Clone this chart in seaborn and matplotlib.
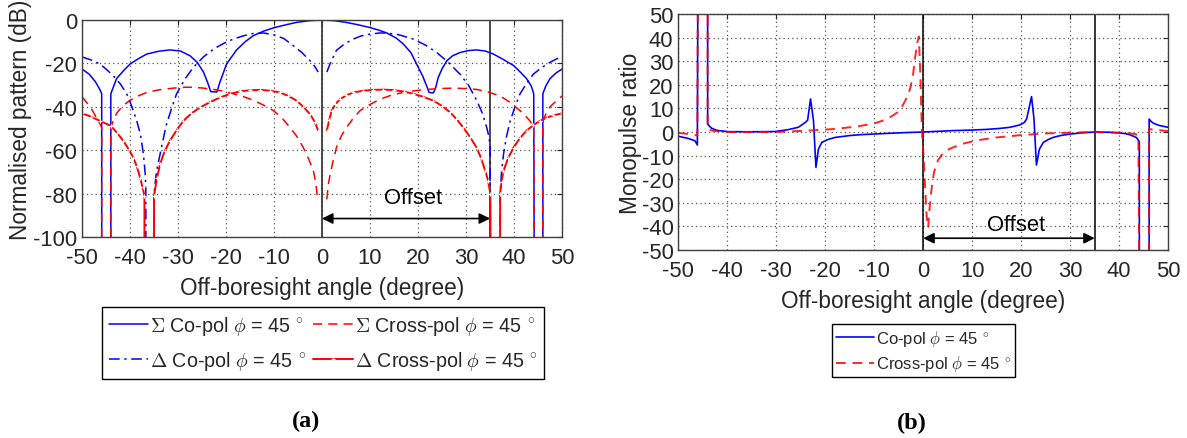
import numpy as np
import pandas as pd
import matplotlib
matplotlib.use("Agg")
import matplotlib.pyplot as plt
import seaborn as sns

# ---------------- data ----------------
N = np.nan
xticks = [-50, -40, -30, -20, -10, 0, 10, 20, 30, 40, 50]
yticks_a = [0, -20, -40, -60, -80, -100]
yticks_b = [50, 40, 30, 20, 10, 0, -10, -20, -30, -40, -50]

# (a) Sigma co-pol (blue solid)
sum_co_x = [-50, -48.5, -47.2, -46.3, -45.9, -45.9, -44.0, -44.0, -42.8, -41.2, -40, -38, -36.5, -34, -31.7, -29.5,
            -27.5, -26, -24.7, -23.8, -23.2, -21.9, -21.25, -20.5, -19.9, -17.8, -16, -14.3, -12, -9.9, -7.5, -5.3, -2.5,
            0, 2.5, 5, 7.5, 10, 12, 13.5, 15.5, 16.9, 18.5, 19.7, 21, 21.9, 22.3, 23.2, 23.7, 24.2, 25, 26, 27.2, 28.75,
            30.5, 32.2, 34, 35.7, 38, 39.9, 41.3, 42.6, 43.6, 44.1, 44.2, 46.0, 46.0, 46.6, 47.5, 48.7, 50]
sum_co_y = [-22.6, -25, -28.5, -32, -34, -110, -110, -34, -27, -23, -20.3, -17.5, -15.7, -14.4, -13.8, -14.3,
            -16.5, -19.5, -24, -29, -33, -33.2, -28.5, -24, -20.3, -13.8, -10, -7.2, -5, -3.5, -2.2, -1.1, -0.3,
            0, -0.3, -1.1, -2.2, -3.5, -4.8, -6, -8.4, -11, -15, -20.3, -26, -31, -33.4, -33.6, -31, -26.5, -22.5, -18.8, -16.5, -15,
            -14.1, -13.8, -14.3, -15.7, -18.5, -21, -24, -27, -30.5, -34, -110, -110, -34, -30.5, -27, -24.5, -22.6]

# (a) Delta co-pol (blue dash-dot), NaN = gap in the curve
dif_co_x = [-50, -48, -46.25, -45, -43.5, -42, -40.7, -39.6, -38.6, -37.8, -37.2, -36.8, -36.7, -36.7, -35.0, -35.0, -34.5, -33.75,
            -33, -32.4, -31.3, -30.3, -28.5, -26.8, -24.7, -22.6, -20.5, -18.5, -16.4, -14.3, -12.2, -10.1, -8, -6, -4.2,
            -2.5, -1.5, -0.8, N, 1, 1.8, 3, 4.7, 6.5, 8.2, 10, 12, 13.5, 16, 19, 21.5, 23.9, 26.3, 28.75, 30.5, 32.2, 33.4, 34.3, 34.8, 35, 35.1,
            37.1, 37.1, 37.4, 37.8, 38.4, 39.2, 40.2, 41.25, 42.6, 44, 45.7, 47.5, 48.8, 50]
dif_co_y = [-17, -18.5, -20.3, -22.6, -25.7, -29.5, -34, -40, -46.5, -53, -62, -72, -80, -110, -110, -80, -70, -62,
            -54, -48, -40.5, -34, -27, -21.8, -17, -13.4, -10.8, -8.8, -7.3, -6.2, -6, -6.8, -8.5, -11.8, -15,
            -18.8, -21.5, -24, N, -24, -19.5, -14, -11, -8.8, -7.3, -6.5, -6, -6, -6.8, -8.8, -11.5, -15, -19.5, -25, -30, -37, -43, -49.5, -54, -58.8, -110,
            -110, -80, -70, -62, -54, -46.5, -40, -34, -29.3, -25, -22, -19.5, -18, -17]

# (a) Sigma cross-pol (red dashed)
sum_x_x = [-50, -48.3, -46.6, -45.9, -45.9, -44.0, -44.0, -43.4, -42.8, -41.5, -40, -38.3, -36.5, -34, -31, -28.8, -26.8, -24.7,
           -22.6, -20.5, -18.5, -16.4, -14.3, -12.2, -10.1, -8.3, -6.7, -5.3, -3.9, -2.8, -1.8, -1.3, -1, N, 1, 1.3, 1.7,
           2.3, 3, 4, 5.1, 6.5, 7.9, 10, 12.1, 14.5, 16.9, 19.3, 21.8, 24.5, 27.4, 29.8, 32.2, 34.6, 37.1, 39.2, 41.25, 42.3,
           43.3, 44.1, 44.2, 46.0, 46.0, 46.6, 47.5, 48.7, 50]
sum_x_y = [-35.4, -40, -46.5, -49.5, -110, -110, -49.5, -46, -43, -39.5, -37, -35, -33.4, -32.2, -31.4, -31, -31, -31.4,
           -32, -32.8, -34, -35.3, -37, -39.2, -41.8, -45.3, -49.5, -53.5, -58.8, -64, -69.5, -75, -81, N, -82.6, -76, -71,
           -65, -58.8, -53.5, -49.5, -45.3, -41.8, -38.9, -36.5, -34.6, -33.4, -32.6, -32, -31.6, -31.4, -31.6, -32, -33.2, -35, -38, -41.8, -44,
           -46.5, -49.5, -110, -110, -46.5, -43.5, -40, -37.5, -35]

# (a) Delta cross-pol (red solid with markers)
dif_x_x = [-50, -48.2, -46.25, -44, -42.7, -41.4, -40.3, -39.3, -38.6, -37.9, -37.4, -37.0, -37.0, -35.0, -35.0, -34.4, -33.75,
           -32.8, -31.7, -30.3, -28.9, -27.2, -25.4, -23.3, -21.25, -19.2, -17.1, -15, -12.9, -10.8, -8.75, -7, -5.3, -3.9, -2.5,
           -1.5, -0.8, N, 1, 1.5, 2, 2.8, 3.75, 5, 6.5, 8.6, 10.7, 12.8, 14.9, 17, 19, 21.1, 23.2, 25, 26.7, 28, 29.4, 30.8,
           32.2, 33.1, 34, 34.6, 35.05, 35.1, 37.1, 37.1, 37.4, 37.8, 38.8, 39.9, 41.2, 42.6, 44, 45.4, 46.8, 48.2, 50]
dif_x_y = [-43, -44.5, -46.5, -48.8, -52, -55.7, -59.5, -63.4, -67.5, -72.6, -77, -81, -110, -110, -81, -73, -66.5,
           -60.5, -55.7, -50.8, -46.5, -43, -40.3, -37.8, -35.7, -34.1, -32.9, -32.4, -32.2, -32.6, -33.4, -35, -37.2, -40, -43.4,
           -47, -51, N, -51, -46, -41.8, -38.8, -36.5, -34.8, -33.4, -32.6, -32.2, -32.1, -32.3, -33, -34, -35.4, -37.2, -39.6, -42.6, -45.6, -49.5, -53.8,
           -58.8, -63.5, -69.5, -74, -80, -110, -110, -80, -74.5, -69.5, -63.5, -58.8, -54.5, -51, -48.5, -46.5, -45, -44, -43]

# (b) Co-pol monopulse ratio (blue solid)
mr_co_x = [-50, -48, -46.6, -46.1, -46.0, -44.0, -44.0, -43.6, -43.2, -42.5, -41.8, -39.8, -35, -30.3, -27.6, -25.5, -24.1,
           -23.6, -23.0, -22.4, -21.9, -21.4, -20.7, -19.5, -18, -15, -12.6, -9.5, -6.5, -3, 0, 3, 6.1, 9.5, 12.9, 15.5,
           17.7, 19.7, 20.6, 21.1, 22.1, 22.6, 23.1, 23.7, 24.5, 25.5, 26.5, 28, 29.9, 32.5, 35, 38, 40.1, 41.3, 42.2, 43.5,
           44.1, 44.1, 46.1, 46.1, 46.5, 46.9, 47.6, 48.3, 50]
mr_co_y = [-1.8, -2.7, -3.7, -5.5, 60, 60, 3.4, 2.4, 1.6, 1.0, 0.6, 0.15, 0.1, 0.2, 1, 2, 4,
           5, 14, 4.8, -15, -7.3, -4.4, -3.2, -2.3, -1.5, -1.1, -0.8, -0.5, -0.2, 0, 0.3, 0.6, 0.8, 1.1, 1.5,
           2, 3, 4, 5.5, 15, 5.5, -14, -7.3, -4.4, -3.2, -2.3, -1.5, -0.9, -0.3, 0, -0.1, -0.4, -0.7, -1.2, -2.3,
           -4.1, -60, -60, 5.5, 4.5, 3.8, 3.2, 2.7, 2]

# (b) Cross-pol monopulse ratio (red dashed)
mr_x_x = [-50, -48, -46.1, -46.0, -44.0, -44.0, -43.3, -42.5, -39.8, -35, -30.3, -23.5, -18, -13.3, -9.9, -8, -6.5, -5.3,
          -4.4, -3.5, -2.7, -2.1, -1.7, -1.2, -0.9, -0.6, -0.3, 0, 0.3, 0.7, 1.0, 1.3, 1.7, 2.2, 3.0, 4.0, 5.5, 8, 11, 15,
          20, 25, 30, 35, 41.5, 43.3, 43.9, 44.1, 46.1, 46.1, 46.9, 48.5, 50]
mr_x_y = [-0.4, -0.8, -1.5, 60, 60, 1.3, 0.7, 0.4, 0, 0, 0, 0.6, 1.3, 2.4, 3.7, 5, 6.6, 8.3,
          10.5, 14, 18.2, 24, 31, 38, 40.5, 25, 2, -8, -20, -36, -40.5, -32, -24, -17, -12, -9, -7, -5, -3.5, -2.3,
          -1.3, -0.6, -0.3, 0, -0.4, -0.9, -1.5, -60, -60, 1.3, 1.0, 0.7, 0.4]

legend_a = [r"$\Sigma$ Co-pol $\phi$ = 45 $^{\circ}$", r"$\Delta$ Co-pol $\phi$ = 45 $^{\circ}$",
            r"$\Sigma$ Cross-pol $\phi$ = 45 $^{\circ}$", r"$\Delta$ Cross-pol $\phi$ = 45 $^{\circ}$"]
legend_b = [r"Co-pol $\phi$ = 45 $^{\circ}$", r"Cross-pol $\phi$ = 45 $^{\circ}$"]
offset_span = [0, 35]

# ---------------- style ----------------
sns.set_style("white")
plt.rcParams["font.family"] = ["Liberation Sans", "DejaVu Sans"]
plt.rcParams["mathtext.fontset"] = "cm"
plt.rcParams["axes.unicode_minus"] = False
TXT = "#262626"
FS_TICK = 15.8
FS_LAB = 16.3

BLUE = "#0000FF"
RED = "#FF0000"


def to_df(xs, ys):
    xs = np.asarray(xs, float)
    ys = np.asarray(ys, float)
    seg = np.cumsum(np.isnan(xs))
    df = pd.DataFrame({"x": xs, "y": ys, "seg": seg})
    return df.dropna()


def draw(ax, xs, ys, **kw):
    n0 = len(ax.get_lines())
    df = to_df(xs, ys)
    sns.lineplot(data=df, x="x", y="y", units="seg", estimator=None, sort=False,
                 ax=ax, legend=False, **kw)
    return ax.get_lines()[n0]


fig = plt.figure(figsize=(11.87, 4.39), dpi=100)
axL = fig.add_axes([0.0691, 0.4579, 0.4044, 0.4943])
axR = fig.add_axes([0.5714, 0.4282, 0.4128, 0.5376])

# ---------- (a) ----------
h1 = draw(axL, sum_co_x, sum_co_y, color=BLUE, lw=1.1, linestyle="-")
h2 = draw(axL, dif_co_x, dif_co_y, color=BLUE, lw=1.1, linestyle=(0, (7, 3, 1.5, 3)))
h3 = draw(axL, sum_x_x, sum_x_y, color=RED, lw=1.1, linestyle=(0, (6, 4)))
h4 = draw(axL, dif_x_x, dif_x_y, color=RED, lw=1.4, linestyle="-", marker="+",
          markersize=3, markeredgewidth=0.8)

for xv in offset_span:
    axL.axvline(xv, color="#3a3a3a", lw=1.3, zorder=1)
axL.annotate("", xy=(offset_span[1], -91.5), xytext=(offset_span[0], -91.5),
             arrowprops=dict(arrowstyle="<|-|>", color="black", lw=1.2, mutation_scale=16,
                             shrinkA=0, shrinkB=0))
axL.text(19, -82, "Offset", ha="center", va="center", fontsize=FS_TICK, color="black")

axL.set_xlim(-50, 50)
axL.set_ylim(-100, 0)
axL.set_xticks(xticks)
axL.set_yticks(yticks_a)
axL.set_xlabel("Off-boresight angle (degree)", fontsize=FS_LAB, color=TXT, labelpad=6)
axL.set_ylabel("Normalised pattern (dB)", fontsize=FS_LAB, color=TXT)
axL.yaxis.set_label_coords(-0.104, 0.545)

# ---------- (b) ----------
g1 = draw(axR, mr_co_x, mr_co_y, color=BLUE, lw=1.2, linestyle="-")
g2 = draw(axR, mr_x_x, mr_x_y, color=RED, lw=1.4, linestyle=(0, (5, 3.5)), alpha=0.85)

for xv in offset_span:
    axR.axvline(xv, color="black", lw=1.1, zorder=1)
axR.annotate("", xy=(offset_span[1], -45), xytext=(offset_span[0], -45),
             arrowprops=dict(arrowstyle="<|-|>", color="black", lw=1.2, mutation_scale=16,
                             shrinkA=0, shrinkB=0))
axR.text(19, -39, "Offset", ha="center", va="center", fontsize=FS_TICK, color="black")

axR.set_xlim(-50, 50)
axR.set_ylim(-50, 50)
axR.set_xticks(xticks)
axR.set_yticks(yticks_b)
axR.set_xlabel("Off-boresight angle (degree)", fontsize=FS_LAB, color=TXT, labelpad=6)
axR.set_ylabel("Monopulse ratio", fontsize=FS_LAB, color=TXT, labelpad=0)

for ax in (axL, axR):
    ax.grid(True, linestyle=(0, (1, 2.5)), color="#555555", lw=0.9)
    ax.tick_params(direction="in", top=True, right=True, length=3.5, width=0.8,
                   labelsize=FS_TICK, colors=TXT)
    ax.tick_params(axis="x", pad=7)
    ax.tick_params(axis="y", pad=3.5)
    for s in ax.spines.values():
        s.set_visible(True)
        s.set_color("#404040")
        s.set_linewidth(1.0)
    ax.set_axisbelow(True)

# ---------- legends ----------
leg_a = fig.legend([h1, h2, h3, h4], legend_a, ncol=2, loc="center",
                   bbox_to_anchor=(0.272, 0.2164), fontsize=14.2, frameon=True, fancybox=False,
                   edgecolor="black", framealpha=1, borderpad=0.35, handlelength=2.0,
                   handletextpad=0.1, columnspacing=0.35, labelspacing=0.62, borderaxespad=0)
leg_a.get_frame().set_linewidth(1.0)

leg_b = fig.legend([g1, g2], legend_b, ncol=1, loc="center",
                   bbox_to_anchor=(0.778, 0.1993), fontsize=12, frameon=True, fancybox=False,
                   edgecolor="black", framealpha=1, borderpad=0.2, handlelength=2.3,
                   handletextpad=0.1, labelspacing=0.35, borderaxespad=0)
leg_b.get_frame().set_linewidth(1.0)

fig.text(0.258, 0.039, "(a)", ha="center", va="center", fontsize=17.5, fontweight="bold",
         family="Liberation Serif", color="black")
fig.text(0.768, 0.036, "(b)", ha="center", va="center", fontsize=17.5, fontweight="bold",
         family="Liberation Serif", color="black")

fig.savefig("out.png", dpi=100)
